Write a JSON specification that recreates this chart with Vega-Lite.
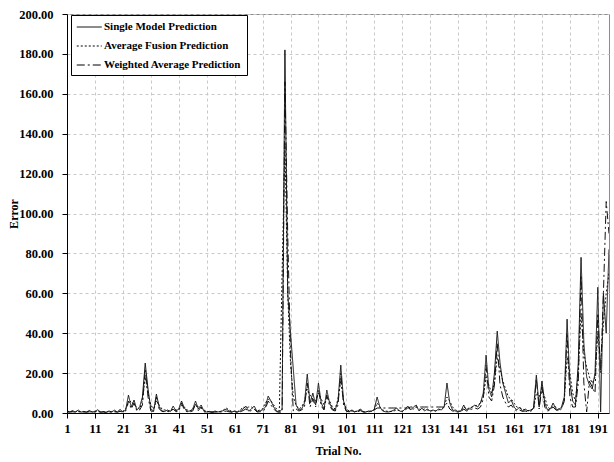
{
  "$schema": "https://vega.github.io/schema/vega-lite/v6.json",
  "width": 542,
  "height": 399,
  "autosize": {"type": "none"},
  "padding": {"left": 67, "top": 14, "right": 5, "bottom": 49},
  "background": "white",
  "config": {
    "view": {"stroke": "#8c8c8c", "strokeWidth": 1},
    "font": "Liberation Serif",
    "axis": {
      "domainColor": "black", "tickColor": "black", "tickSize": 5,
      "gridColor": "#c8c8c8", "gridDash": [3, 3], "gridWidth": 1
    }
  },
  "data": {"values": [
    {"t":1,"S":1.0,"A":0.8,"W":0.5},{"t":2,"S":0.6,"A":0.7,"W":0.4},{"t":3,"S":1.2,"A":0.8,"W":0.6},{"t":4,"S":0.5,"A":0.6,"W":0.4},{"t":5,"S":1.5,"A":0.9,"W":0.7},
    {"t":6,"S":0.4,"A":0.6,"W":0.3},{"t":7,"S":0.8,"A":0.7,"W":0.5},{"t":8,"S":0.5,"A":0.6,"W":0.4},{"t":9,"S":1.3,"A":0.8,"W":0.6},{"t":10,"S":0.4,"A":0.6,"W":0.3},
    {"t":11,"S":0.9,"A":0.7,"W":0.5},{"t":12,"S":1.6,"A":0.9,"W":0.7},{"t":13,"S":0.5,"A":0.6,"W":0.4},{"t":14,"S":0.7,"A":0.7,"W":0.5},{"t":15,"S":0.3,"A":0.5,"W":0.3},
    {"t":16,"S":1.0,"A":0.7,"W":0.5},{"t":17,"S":0.6,"A":0.6,"W":0.4},{"t":18,"S":1.4,"A":0.8,"W":0.6},{"t":19,"S":0.5,"A":0.6,"W":0.4},{"t":20,"S":1.8,"A":1.0,"W":0.8},
    {"t":21,"S":0.6,"A":0.8,"W":0.5},{"t":22,"S":1.5,"A":2.0,"W":1.0},{"t":23,"S":9.0,"A":5.0,"W":6.0},{"t":24,"S":3.0,"A":6.0,"W":2.0},{"t":25,"S":6.5,"A":4.0,"W":5.0},
    {"t":26,"S":1.5,"A":3.0,"W":1.0},{"t":27,"S":3.0,"A":2.0,"W":1.5},{"t":28,"S":8.0,"A":6.0,"W":4.0},{"t":29,"S":25.0,"A":18.0,"W":22.0},{"t":30,"S":12.0,"A":10.0,"W":8.0},
    {"t":31,"S":2.0,"A":4.0,"W":1.0},{"t":32,"S":1.0,"A":2.0,"W":0.8},{"t":33,"S":9.5,"A":6.0,"W":8.0},{"t":34,"S":3.0,"A":4.0,"W":2.0},{"t":35,"S":1.0,"A":2.0,"W":0.8},
    {"t":36,"S":0.8,"A":1.5,"W":0.6},{"t":37,"S":1.5,"A":1.2,"W":0.8},{"t":38,"S":0.7,"A":1.0,"W":0.5},{"t":39,"S":3.5,"A":2.0,"W":2.0},{"t":40,"S":1.0,"A":1.5,"W":0.6},
    {"t":41,"S":2.0,"A":1.5,"W":1.0},{"t":42,"S":6.0,"A":4.0,"W":5.0},{"t":43,"S":2.5,"A":3.0,"W":1.5},{"t":44,"S":0.8,"A":1.5,"W":0.6},{"t":45,"S":1.0,"A":1.0,"W":0.6},
    {"t":46,"S":2.0,"A":1.5,"W":1.0},{"t":47,"S":6.0,"A":4.5,"W":4.5},{"t":48,"S":2.0,"A":3.0,"W":1.2},{"t":49,"S":4.0,"A":2.5,"W":3.0},{"t":50,"S":1.0,"A":1.5,"W":0.6},
    {"t":51,"S":0.5,"A":0.8,"W":0.4},{"t":52,"S":0.8,"A":0.7,"W":0.5},{"t":53,"S":0.4,"A":0.6,"W":0.3},{"t":54,"S":1.0,"A":0.7,"W":0.5},{"t":55,"S":0.5,"A":0.6,"W":0.4},
    {"t":56,"S":0.8,"A":0.8,"W":0.5},{"t":57,"S":1.2,"A":1.5,"W":0.6},{"t":58,"S":2.0,"A":2.5,"W":1.0},{"t":59,"S":1.0,"A":1.5,"W":0.6},{"t":60,"S":0.5,"A":0.8,"W":0.4},
    {"t":61,"S":1.0,"A":0.8,"W":0.6},{"t":62,"S":0.5,"A":0.6,"W":0.3},{"t":63,"S":1.0,"A":1.5,"W":0.6},{"t":64,"S":2.0,"A":3.0,"W":1.2},{"t":65,"S":3.5,"A":2.5,"W":2.0},
    {"t":66,"S":1.0,"A":3.0,"W":0.8},{"t":67,"S":2.0,"A":3.0,"W":1.2},{"t":68,"S":3.5,"A":2.0,"W":2.0},{"t":69,"S":0.8,"A":1.0,"W":0.5},{"t":70,"S":1.0,"A":1.5,"W":0.6},
    {"t":71,"S":1.5,"A":2.0,"W":0.8},{"t":72,"S":3.0,"A":5.0,"W":2.0},{"t":73,"S":8.5,"A":7.0,"W":6.0},{"t":74,"S":6.0,"A":6.0,"W":4.0},{"t":75,"S":3.0,"A":4.0,"W":2.0},
    {"t":76,"S":1.0,"A":2.0,"W":0.6},{"t":77,"S":0.5,"A":1.0,"W":0.4},{"t":78,"S":2.0,"A":70.0,"W":0.5},{"t":79,"S":182.0,"A":135.0,"W":166.0},{"t":80,"S":60.0,"A":60.0,"W":90.0},
    {"t":81,"S":40.0,"A":25.0,"W":30.0},{"t":82,"S":22.0,"A":8.0,"W":1.0},{"t":83,"S":4.0,"A":4.0,"W":2.0},{"t":84,"S":1.5,"A":2.0,"W":1.0},{"t":85,"S":2.0,"A":3.0,"W":1.5},
    {"t":86,"S":5.0,"A":6.0,"W":3.0},{"t":87,"S":19.5,"A":12.0,"W":15.0},{"t":88,"S":5.0,"A":9.0,"W":3.0},{"t":89,"S":10.0,"A":7.0,"W":7.0},{"t":90,"S":4.0,"A":6.0,"W":3.0},
    {"t":91,"S":15.0,"A":10.0,"W":12.0},{"t":92,"S":5.0,"A":7.0,"W":3.5},{"t":93,"S":2.0,"A":4.0,"W":1.5},{"t":94,"S":11.5,"A":8.0,"W":9.0},{"t":95,"S":5.0,"A":6.0,"W":3.5},
    {"t":96,"S":2.0,"A":3.0,"W":1.5},{"t":97,"S":1.5,"A":2.0,"W":1.0},{"t":98,"S":6.0,"A":7.0,"W":4.0},{"t":99,"S":24.0,"A":16.0,"W":20.0},{"t":100,"S":6.0,"A":6.0,"W":4.0},
    {"t":101,"S":1.0,"A":2.0,"W":0.8},{"t":102,"S":0.8,"A":1.0,"W":0.6},{"t":103,"S":1.5,"A":1.0,"W":1.0},{"t":104,"S":0.6,"A":0.8,"W":0.5},{"t":105,"S":1.0,"A":0.8,"W":0.6},
    {"t":106,"S":2.0,"A":1.5,"W":1.2},{"t":107,"S":0.6,"A":0.8,"W":0.5},{"t":108,"S":0.5,"A":0.7,"W":0.4},{"t":109,"S":1.0,"A":0.8,"W":0.6},{"t":110,"S":0.8,"A":1.0,"W":0.8},
    {"t":111,"S":2.0,"A":1.5,"W":1.5},{"t":112,"S":8.0,"A":5.0,"W":2.5},{"t":113,"S":3.0,"A":3.0,"W":2.5},{"t":114,"S":1.0,"A":1.5,"W":2.5},{"t":115,"S":0.6,"A":1.0,"W":2.5},
    {"t":116,"S":0.5,"A":0.8,"W":2.5},{"t":117,"S":0.8,"A":0.8,"W":2.5},{"t":118,"S":1.5,"A":1.0,"W":2.5},{"t":119,"S":2.5,"A":1.5,"W":2.5},{"t":120,"S":1.0,"A":1.2,"W":2.5},
    {"t":121,"S":0.6,"A":1.0,"W":2.5},{"t":122,"S":2.0,"A":1.5,"W":2.5},{"t":123,"S":3.5,"A":2.5,"W":2.5},{"t":124,"S":1.5,"A":2.0,"W":3.0},{"t":125,"S":3.0,"A":2.0,"W":3.0},
    {"t":126,"S":4.0,"A":3.0,"W":3.0},{"t":127,"S":1.0,"A":2.0,"W":3.0},{"t":128,"S":2.5,"A":1.5,"W":3.0},{"t":129,"S":1.0,"A":2.0,"W":3.0},{"t":130,"S":2.0,"A":1.5,"W":3.0},
    {"t":131,"S":1.0,"A":1.0,"W":3.0},{"t":132,"S":1.5,"A":1.2,"W":3.0},{"t":133,"S":1.0,"A":1.0,"W":3.0},{"t":134,"S":2.0,"A":1.5,"W":3.0},{"t":135,"S":1.5,"A":2.0,"W":3.0},
    {"t":136,"S":3.0,"A":3.0,"W":3.0},{"t":137,"S":15.0,"A":8.0,"W":5.0},{"t":138,"S":5.0,"A":6.0,"W":2.0},{"t":139,"S":1.5,"A":3.0,"W":1.0},{"t":140,"S":1.0,"A":1.5,"W":0.6},
    {"t":141,"S":0.8,"A":1.0,"W":0.5},{"t":142,"S":1.0,"A":0.8,"W":0.6},{"t":143,"S":4.0,"A":3.0,"W":2.0},{"t":144,"S":1.5,"A":2.0,"W":1.0},{"t":145,"S":2.0,"A":2.5,"W":1.5},
    {"t":146,"S":3.0,"A":3.0,"W":2.0},{"t":147,"S":4.0,"A":3.5,"W":2.5},{"t":148,"S":3.0,"A":4.0,"W":2.0},{"t":149,"S":5.0,"A":5.0,"W":3.0},{"t":150,"S":10.0,"A":8.0,"W":7.0},
    {"t":151,"S":29.0,"A":18.0,"W":24.0},{"t":152,"S":12.0,"A":14.0,"W":8.0},{"t":153,"S":8.0,"A":10.0,"W":6.0},{"t":154,"S":20.0,"A":15.0,"W":14.0},{"t":155,"S":41.0,"A":28.0,"W":35.0},
    {"t":156,"S":25.0,"A":22.0,"W":14.0},{"t":157,"S":15.0,"A":16.0,"W":8.0},{"t":158,"S":10.0,"A":12.0,"W":5.0},{"t":159,"S":5.0,"A":8.0,"W":3.0},{"t":160,"S":6.5,"A":7.0,"W":4.0},
    {"t":161,"S":3.0,"A":5.0,"W":2.0},{"t":162,"S":1.5,"A":3.0,"W":1.0},{"t":163,"S":3.0,"A":2.5,"W":1.5},{"t":164,"S":1.0,"A":2.0,"W":0.8},{"t":165,"S":2.0,"A":1.5,"W":1.0},
    {"t":166,"S":1.0,"A":1.2,"W":0.6},{"t":167,"S":1.5,"A":1.5,"W":1.0},{"t":168,"S":2.5,"A":2.0,"W":1.5},{"t":169,"S":19.0,"A":10.0,"W":17.0},{"t":170,"S":3.0,"A":8.0,"W":2.0},
    {"t":171,"S":16.0,"A":12.0,"W":13.0},{"t":172,"S":5.0,"A":8.0,"W":3.0},{"t":173,"S":1.5,"A":3.0,"W":1.0},{"t":174,"S":2.0,"A":2.0,"W":1.5},{"t":175,"S":5.0,"A":3.5,"W":3.0},
    {"t":176,"S":2.0,"A":3.0,"W":1.5},{"t":177,"S":1.5,"A":2.0,"W":1.0},{"t":178,"S":3.0,"A":2.5,"W":2.0},{"t":179,"S":8.0,"A":6.0,"W":6.0},{"t":180,"S":47.0,"A":28.0,"W":40.0},
    {"t":181,"S":15.0,"A":20.0,"W":8.0},{"t":182,"S":6.0,"A":10.0,"W":3.0},{"t":183,"S":4.0,"A":6.0,"W":3.0},{"t":184,"S":25.0,"A":20.0,"W":15.0},{"t":185,"S":78.0,"A":50.0,"W":69.0},
    {"t":186,"S":35.0,"A":30.0,"W":15.0},{"t":187,"S":18.0,"A":23.0,"W":0.5},{"t":188,"S":14.0,"A":18.0,"W":16.0},{"t":189,"S":12.0,"A":15.0,"W":13.0},{"t":190,"S":20.0,"A":18.0,"W":10.0},
    {"t":191,"S":63.0,"A":40.0,"W":50.0},{"t":192,"S":0.5,"A":25.0,"W":20.0},{"t":193,"S":60.0,"A":45.0,"W":60.0},{"t":194,"S":40.0,"A":60.0,"W":106.0},{"t":195,"S":82.0,"A":70.0,"W":90.0}
  ]},
  "transform": [{"fold": ["S", "A", "W"], "as": ["series", "error"]}],
  "mark": {"type": "line", "color": "#111111", "strokeWidth": 1, "clip": true},
  "encoding": {
    "x": {
      "field": "t", "type": "quantitative", "title": "Trial No.",
      "scale": {"domain": [1, 195], "nice": false, "zero": false},
      "axis": {
        "values": [1, 11, 21, 31, 41, 51, 61, 71, 81, 91, 101, 111, 121, 131, 141, 151, 161, 171, 181, 191],
        "labelFont": "Liberation Serif", "labelFontWeight": "bold", "labelFontSize": 13, "labelColor": "black",
        "titleFont": "Liberation Serif", "titleFontWeight": "bold", "titleFontSize": 12, "titleColor": "black",
        "labelPadding": 4, "titlePadding": 10, "labelFlush": false
      }
    },
    "y": {
      "field": "error", "type": "quantitative", "title": "Error",
      "scale": {"domain": [0, 200], "nice": false},
      "axis": {
        "values": [0, 20, 40, 60, 80, 100, 120, 140, 160, 180, 200], "format": ".2f",
        "labelFont": "Liberation Serif", "labelFontWeight": "bold", "labelFontSize": 12.5, "labelColor": "black",
        "titleFont": "Liberation Serif", "titleFontWeight": "bold", "titleFontSize": 12, "titleColor": "black",
        "labelPadding": 9, "titleX": -54, "titleY": 199.5, "titleBaseline": "middle", "titleAlign": "center", "labelFlush": false
      }
    },
    "strokeDash": {
      "field": "series", "type": "nominal",
      "scale": {"domain": ["S", "A", "W"], "range": [[1, 0], [2, 2], [8, 3, 2, 3]]},
      "legend": {
        "title": null, "orient": "none", "legendX": 4, "legendY": 1,
        "labelExpr": "datum.value == 'S' ? 'Single Model Prediction' : datum.value == 'A' ? 'Average Fusion Prediction' : 'Weighted Average Prediction'",
        "labelFont": "Liberation Serif", "labelFontWeight": "bold", "labelFontSize": 11, "labelColor": "black", "labelLimit": 300,
        "symbolType": "M-1,0H3", "symbolSize": 156, "symbolStrokeColor": "black", "symbolStrokeWidth": 1, "labelOffset": 14,
        "strokeColor": "black", "fillColor": "white", "padding": 5, "rowPadding": 7, "cornerRadius": 0
      }
    }
  }
}
